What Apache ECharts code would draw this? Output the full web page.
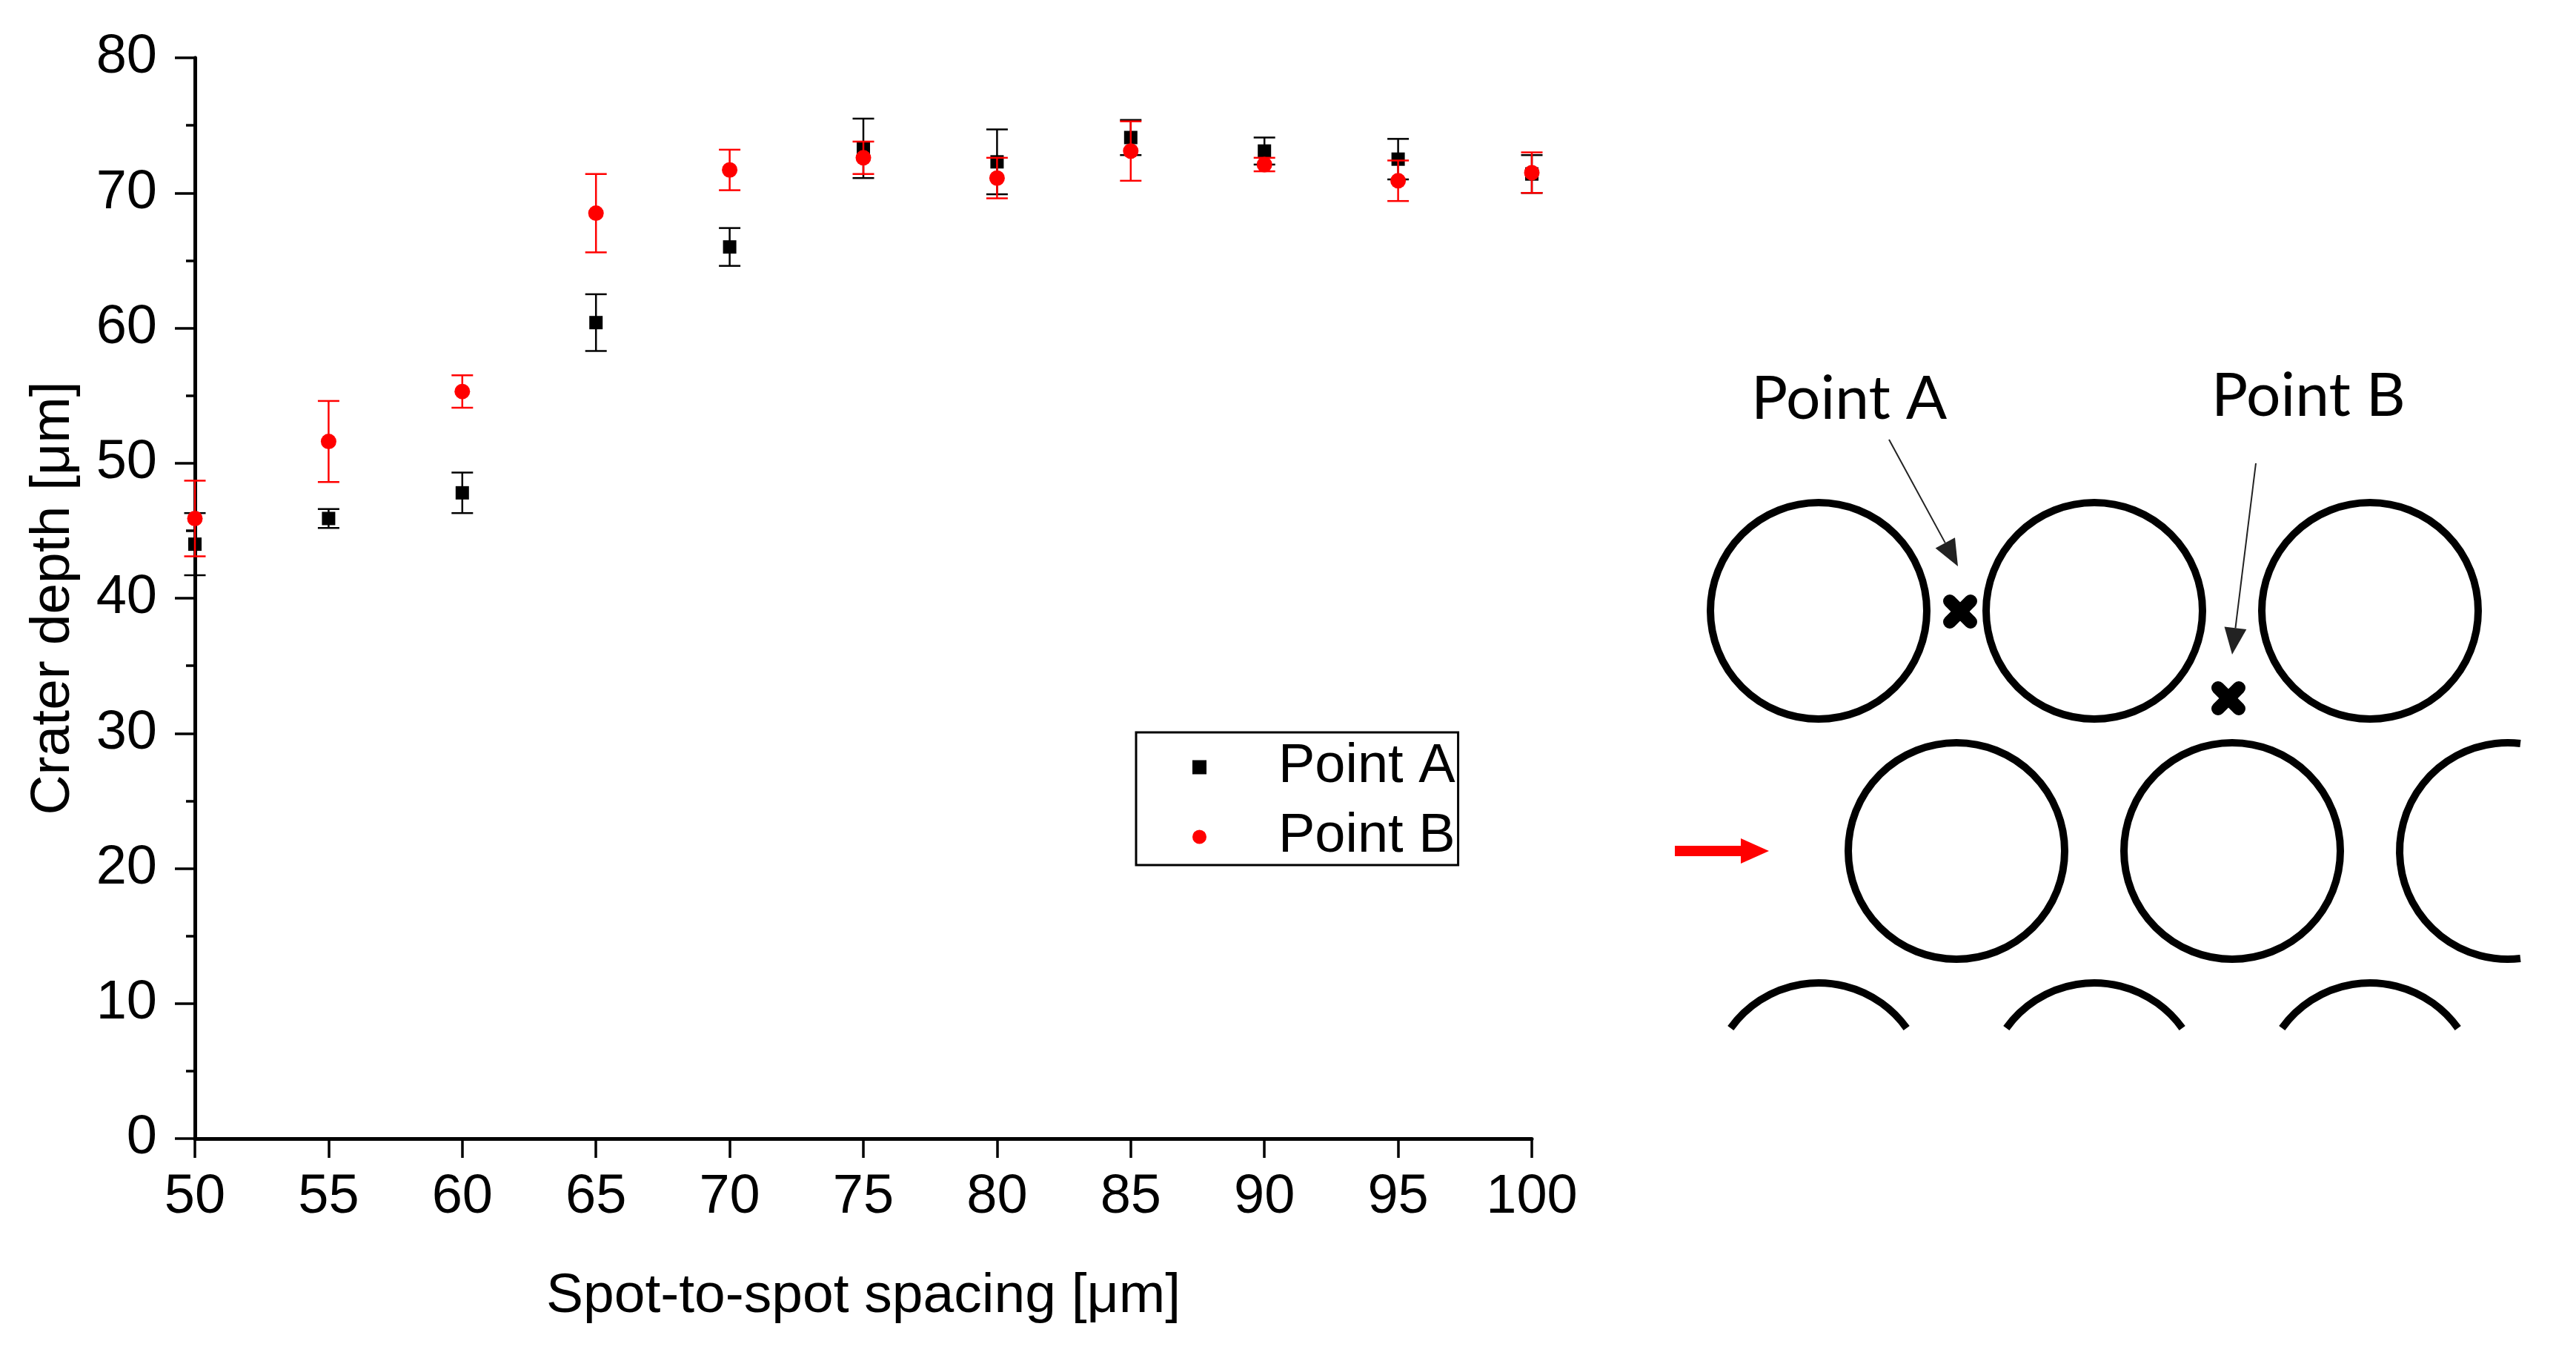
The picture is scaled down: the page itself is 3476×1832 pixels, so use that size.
<!DOCTYPE html>
<html>
<head>
<meta charset="utf-8">
<script src="https://cdn.jsdelivr.net/npm/echarts@6/dist/echarts.min.js"></script>
<style>
html,body{margin:0;padding:0;background:#fff;}
#chart{width:3476px;height:1832px;}
</style>
</head>
<body>
<div id="chart"></div>
<script>
// ---- data ----
const spacing = [50, 55, 60, 65, 70, 75, 80, 85, 90, 95, 100];
const pointA = [44.0, 45.9, 47.8, 60.4, 66.0, 73.3, 72.3, 74.1, 73.1, 72.5, 71.4];
const pointAErr = [2.3, 0.7, 1.5, 2.1, 1.4, 2.2, 2.4, 1.3, 1.0, 1.5, 1.4];
const pointB = [45.9, 51.6, 55.3, 68.5, 71.7, 72.6, 71.1, 73.1, 72.1, 70.9, 71.5];
const pointBErr = [2.8, 3.0, 1.2, 2.9, 1.5, 1.2, 1.5, 2.2, 0.5, 1.5, 1.5];
const seriesNames = ['Point A', 'Point B'];
const xTitle = 'Spot-to-spot spacing [μm]';
const yTitle = 'Crater depth [μm]';

const FONT = 'Liberation Sans, Arial, sans-serif';

function errData(means, errs) {
  return spacing.map((x, i) => [x, means[i], errs[i]]);
}
function ptData(means) {
  return spacing.map((x, i) => [x, means[i]]);
}
function errRenderer(color) {
  return function (params, api) {
    const x = api.value(0), m = api.value(1), e = api.value(2);
    const top = api.coord([x, m + e]);
    const bot = api.coord([x, m - e]);
    const hw = 14.5;
    const st = { stroke: color, lineWidth: 2.5, fill: null };
    return {
      type: 'group',
      children: [
        { type: 'line', shape: { x1: top[0], y1: top[1], x2: bot[0], y2: bot[1] }, style: st },
        { type: 'line', shape: { x1: top[0] - hw, y1: top[1], x2: top[0] + hw, y2: top[1] }, style: st },
        { type: 'line', shape: { x1: bot[0] - hw, y1: bot[1], x2: bot[0] + hw, y2: bot[1] }, style: st }
      ]
    };
  };
}

// ---- illustration on the right (graphic layout) ----
const R = 146, SW = 10;
const rowY = [824, 1148, 1472];
const rowX = [[2454, 2826, 3198], [2640, 3012, 3384], [2454, 2826, 3198]];
const clipRight = 3401, clipBottom = 1387;
const gfx = [];
rowY.forEach((cy, r) => {
  rowX[r].forEach(cx => {
    if (cy + R > clipBottom) {
      const s = Math.asin((clipBottom - cy) / R); // negative
      gfx.push({ type: 'arc', shape: { cx: cx, cy: cy, r: R, startAngle: -Math.PI - s, endAngle: s, clockwise: true },
        style: { stroke: '#000', lineWidth: SW, fill: null } });
    } else if (cx + R > clipRight) {
      const c = Math.acos((clipRight - cx) / R);
      gfx.push({ type: 'arc', shape: { cx: cx, cy: cy, r: R, startAngle: c, endAngle: 2 * Math.PI - c, clockwise: true },
        style: { stroke: '#000', lineWidth: SW, fill: null } });
    } else {
      gfx.push({ type: 'circle', shape: { cx: cx, cy: cy, r: R }, style: { stroke: '#000', lineWidth: SW, fill: null } });
    }
  });
});
function xMark(cx, cy) {
  const d = 14;
  return [
    { type: 'line', shape: { x1: cx - d, y1: cy - d, x2: cx + d, y2: cy + d }, style: { stroke: '#000', lineWidth: 18, lineCap: 'round' } },
    { type: 'line', shape: { x1: cx - d, y1: cy + d, x2: cx + d, y2: cy - d }, style: { stroke: '#000', lineWidth: 18, lineCap: 'round' } }
  ];
}
function arrow(sx, sy, tx, ty, len, hw, color, lw) {
  const dx = tx - sx, dy = ty - sy, L = Math.hypot(dx, dy);
  const ux = dx / L, uy = dy / L;
  const bx = tx - ux * len, by = ty - uy * len;
  return [
    { type: 'line', shape: { x1: sx, y1: sy, x2: bx, y2: by }, style: { stroke: color, lineWidth: lw } },
    { type: 'polygon', shape: { points: [[tx, ty], [bx - uy * hw, by + ux * hw], [bx + uy * hw, by - ux * hw]] }, style: { fill: color } }
  ];
}
gfx.push(...xMark(2645, 825));
gfx.push(...xMark(3007, 942));
gfx.push(...arrow(2549, 593, 2642, 764, 36, 15, '#222', 2));
gfx.push(...arrow(3044, 625, 3012, 883, 36, 15, '#222', 2));
gfx.push(...arrow(2260, 1148, 2387, 1148, 38, 17, '#ff0000', 14));
gfx.push({ type: 'text', style: { text: 'Point A', x: 2363, y: 539, font: '82px Lato, sans-serif', fill: '#000',
  textAlign: 'left', textVerticalAlign: 'middle', align: 'left', verticalAlign: 'middle' } });
gfx.push({ type: 'text', style: { text: 'Point B', x: 2984, y: 535, font: '82px Lato, sans-serif', fill: '#000',
  textAlign: 'left', textVerticalAlign: 'middle', align: 'left', verticalAlign: 'middle' } });

const chart = echarts.init(document.getElementById('chart'), null, { renderer: 'canvas' });
chart.setOption({
  backgroundColor: '#fff',
  animation: false,
  grid: { left: 263, right: 1409, top: 78, bottom: 296, containLabel: false },
  xAxis: {
    type: 'value', min: 50, max: 100, interval: 5,
    name: xTitle, nameLocation: 'middle', nameGap: 176,
    nameTextStyle: { fontFamily: FONT, fontSize: 75, color: '#000' },
    axisLine: { show: true, onZero: false, lineStyle: { color: '#000', width: 5 } },
    axisTick: { show: true, inside: false, length: 26, lineStyle: { color: '#000', width: 3.5 } },
    minorTick: { show: false },
    splitLine: { show: false },
    axisLabel: { fontFamily: FONT, fontSize: 74, color: '#000', margin: 43 }
  },
  yAxis: {
    type: 'value', min: 0, max: 80, interval: 10,
    name: yTitle, nameLocation: 'middle', nameGap: 153,
    nameTextStyle: { fontFamily: FONT, fontSize: 75, color: '#000' },
    axisLine: { show: true, onZero: false, lineStyle: { color: '#000', width: 5 } },
    axisTick: { show: true, inside: false, length: 27, lineStyle: { color: '#000', width: 3.5 } },
    minorTick: { show: true, splitNumber: 2, length: 12, lineStyle: { color: '#000', width: 3.5 } },
    splitLine: { show: false },
    axisLabel: { fontFamily: FONT, fontSize: 74, color: '#000', margin: 51 }
  },
  legend: {
    data: seriesNames,
    orient: 'vertical', align: 'left',
    left: 1533, top: 988,
    padding: [10, 4, 1, 76],
    itemGap: 20, itemWidth: 19, itemHeight: 19,
    borderColor: '#000', borderWidth: 3, backgroundColor: '#fff',
    formatter: '{t|{name}}',
    itemStyle: { opacity: 1 },
    textStyle: { fontFamily: FONT, fontSize: 74, color: '#000',
      rich: { t: { fontFamily: FONT, fontSize: 74, color: '#000', padding: [0, 0, 0, 92] } } }
  },
  graphic: { elements: gfx },
  series: [
    { name: 'errA', type: 'custom', renderItem: errRenderer('#000'), data: errData(pointA, pointAErr),
      encode: { x: 0, y: 1 }, z: 2, silent: true },
    { name: seriesNames[0], type: 'scatter', data: ptData(pointA), symbol: 'rect', symbolSize: 18,
      itemStyle: { color: '#000', opacity: 1 }, z: 3 },
    { name: 'errB', type: 'custom', renderItem: errRenderer('#ff0000'), data: errData(pointB, pointBErr),
      encode: { x: 0, y: 1 }, z: 4, silent: true },
    { name: seriesNames[1], type: 'scatter', data: ptData(pointB), symbol: 'circle', symbolSize: 21,
      itemStyle: { color: '#ff0000', opacity: 1 }, z: 5 }
  ]
});
</script>
</body>
</html>
